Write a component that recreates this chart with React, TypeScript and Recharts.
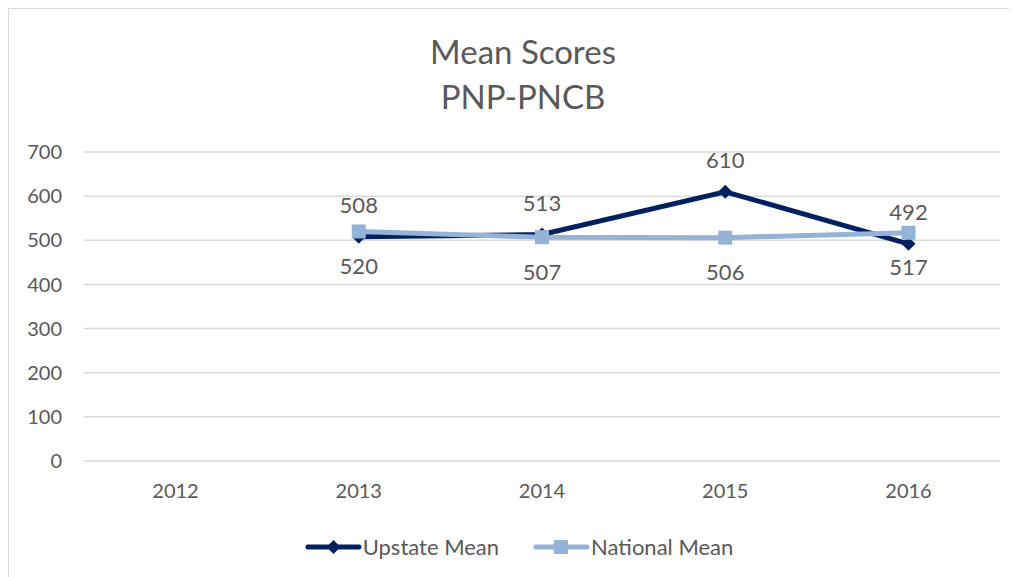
import * as React from "react";
import { LineChart, Line, XAxis, YAxis, CartesianGrid, LabelList } from "recharts";

const years = ["2012", "2013", "2014", "2015", "2016"];
const upstateMean: (number | null)[] = [null, 508, 513, 610, 492];
const nationalMean: (number | null)[] = [null, 520, 507, 506, 517];
const yTicks = [0, 100, 200, 300, 400, 500, 600, 700];

const UPSTATE = "#002060";
const NATIONAL = "#95B3D7";
const TEXT = "#595959";
const FONT = "Lato, 'Open Sans', sans-serif";

const data = years.map((y, i) => ({ year: y, upstate: upstateMean[i], national: nationalMean[i] }));

function Diamond(props: any) {
  const { cx, cy } = props;
  if (cx == null || cy == null || props.value == null) return null;
  const r = 7;
  return <path d={`M${cx},${cy - r}L${cx + r},${cy}L${cx},${cy + r}L${cx - r},${cy}Z`} fill={UPSTATE} />;
}

function Square(props: any) {
  const { cx, cy } = props;
  if (cx == null || cy == null || props.value == null) return null;
  const s = 7;
  return <rect x={cx - s} y={cy - s} width={s * 2} height={s * 2} fill={NATIONAL} />;
}

function LegendBox() {
  const item = (color: string, label: string, square: boolean, gap: number) => (
    <div style={{ display: "flex", alignItems: "center", marginRight: gap }}>
      <svg width={57} height={20}>
        <line x1={3} y1={10} x2={54} y2={10} stroke={color} strokeWidth={5} strokeLinecap="round" />
        {square ? (
          <rect x={21} y={3} width={14} height={14} fill={color} />
        ) : (
          <path d="M28.5,3L35.5,10L28.5,17L21.5,10Z" fill={color} />
        )}
      </svg>
      <span style={{ fontSize: 22, color: TEXT, fontFamily: FONT, marginLeft: 1 }}>{label}</span>
    </div>
  );
  return (
    <div style={{ display: "flex", justifyContent: "center" }}>
      {item(UPSTATE, "Upstate Mean", false, 34)}
      {item(NATIONAL, "National Mean", true, 0)}
    </div>
  );
}

export default function App() {
  return (
    <div
      style={{
        position: "relative",
        width: 1020,
        height: 575,
        border: "2px solid #d9d9d9",
        boxSizing: "border-box",
        background: "#fff",
        fontFamily: FONT,
        margin: -1,
      }}
    >
      <div style={{ position: "absolute", top: 20, left: 0, width: 1028, textAlign: "center", color: TEXT, fontSize: 33, lineHeight: "45px" }}>
        Mean Scores
        <br />
        PNP-PNCB
      </div>
      <LineChart
        width={1016}
        height={571}
        data={data}
        margin={{ top: 143, right: 25, bottom: 0, left: 0 }}
      >
        <CartesianGrid vertical={false} stroke="#d9d9d9" strokeWidth={1.5} />
        <XAxis
          dataKey="year"
          axisLine={false}
          tickLine={false}
          tickSize={0}
          tickMargin={23}
          height={119}
          padding={{ left: 91.5, right: 91.5 }}
          tick={{ fill: TEXT, fontSize: 20, fontFamily: FONT }}
        />
        <YAxis
          domain={[0, 700]}
          ticks={yTicks}
          axisLine={false}
          tickLine={false}
          tickSize={0}
          tickMargin={22}
          width={75}
          tick={{ fill: TEXT, fontSize: 20, fontFamily: FONT }}
        />
        <Line
          dataKey="upstate"
          name="Upstate Mean"
          stroke={UPSTATE}
          strokeWidth={5}
          dot={<Diamond />}
          activeDot={false}
          isAnimationActive={false}
        >
          <LabelList dataKey="upstate" position="top" offset={24} fill={TEXT} fontSize={22} fontFamily={FONT} />
        </Line>
        <Line
          dataKey="national"
          name="National Mean"
          stroke={NATIONAL}
          strokeWidth={5}
          dot={<Square />}
          activeDot={false}
          isAnimationActive={false}
        >
          <LabelList dataKey="national" position="bottom" offset={27} fill={TEXT} fontSize={22} fontFamily={FONT} />
        </Line>
      </LineChart>
      <div style={{ position: "absolute", top: 524, left: 0, width: 1020 }}>
        <LegendBox />
      </div>
    </div>
  );
}
